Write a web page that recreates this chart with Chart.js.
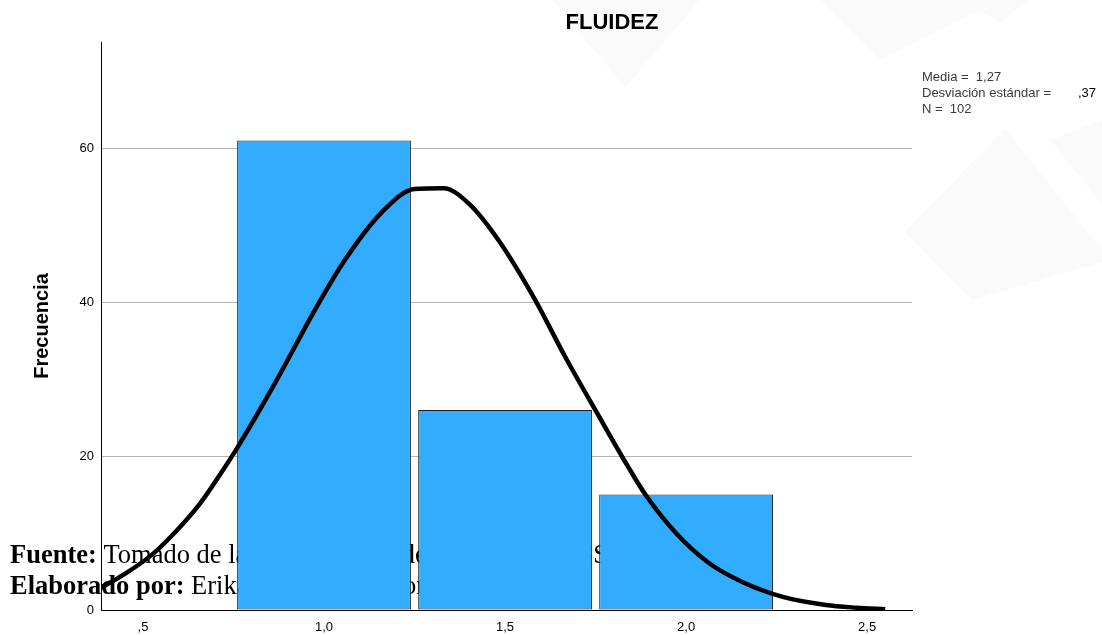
<!DOCTYPE html>
<html>
<head>
<meta charset="utf-8">
<script src="https://cdn.jsdelivr.net/npm/chart.js@4.4.1/dist/chart.umd.min.js"></script>
<style>
  html, body { margin: 0; padding: 0; background: #fff; }
  #wrap { width: 1102px; height: 635px; position: relative; }
</style>
</head>
<body>
<div id="wrap"><canvas id="chart"></canvas></div>
<script>
// histogram bins (midpoints) and frequencies
const binCenters = [1.0, 1.5, 2.0];
const frequencies = [61, 26, 15];

// normal curve
const curveX = [0.384, 0.45, 0.52, 0.566, 0.657, 0.71, 0.762, 0.865, 0.975, 1.058, 1.16, 1.25, 1.33, 1.40, 1.481, 1.583, 1.666, 1.754, 1.84, 1.889, 1.972, 2.063, 2.157, 2.267, 2.386, 2.47, 2.55];
const curveY = [2.9, 4.7, 7.0, 9.0, 13.8, 17.4, 21.2, 29.5, 39.0, 45.5, 51.7, 54.7, 54.8, 52.8, 48.1, 40.3, 32.9, 25.6, 18.6, 14.9, 10.0, 6.1, 3.6, 1.7, 0.65, 0.3, 0.1];

const xTicks = [0.5, 1.0, 1.5, 2.0, 2.5];
const yTicks = [0, 20, 40, 60];

const statsLines = ['Media =  1,27', 'Desviación estándar =', 'N =  102'];
const statsSd = ',37';

const fmtX = v => v.toFixed(1).replace('.', ',').replace(/^0/, '');

// faint page watermark behind everything
const pageBg = {
  id: 'pageBg',
  beforeDraw(chart) {
    const ctx = chart.ctx;
    ctx.save();
    ctx.fillStyle = '#fafafa';
    const shapes = [
      [[552, 0], [625, 88], [700, 0]],
      [[820, 0], [880, 60], [1000, 0]],
      [[960, 0], [1000, 22], [1030, 0]],
      [[905, 232], [1005, 128], [1102, 250], [1102, 262], [972, 300]],
      [[1050, 140], [1102, 120], [1102, 205]]
    ];
    shapes.forEach(p => {
      ctx.beginPath();
      p.forEach((pt, i) => (i ? ctx.lineTo(pt[0], pt[1]) : ctx.moveTo(pt[0], pt[1])));
      ctx.closePath();
      ctx.fill();
    });
    ctx.restore();
  }
};

// text that sits behind the bars (pasted from the source document)
const overlayText = {
  id: 'overlayText',
  beforeDatasetsDraw(chart) {
    const ctx = chart.ctx;
    const serif = '"Liberation Serif", "Times New Roman", serif';
    ctx.save();
    ctx.fillStyle = '#000';
    ctx.textBaseline = 'alphabetic';
    ctx.font = 'bold 26.5px ' + serif;
    ctx.fillText('Fuente:', 10, 563);
    let w = ctx.measureText('Fuente: ').width;
    ctx.font = '26.5px ' + serif;
    ctx.fillText('Tomado de la base de datos del programa SPSS', 10 + w, 563);
    ctx.font = 'bold 26.5px ' + serif;
    ctx.fillText('Elaborado por:', 10, 594);
    w = ctx.measureText('Elaborado por: ').width;
    ctx.font = '26.5px ' + serif;
    ctx.fillText('Erika Moreno Cóndor', 10 + w, 594);
    ctx.restore();
  }
};

const headerText = {
  id: 'headerText',
  afterDraw(chart) {
    const ctx = chart.ctx;
    ctx.save();
    ctx.fillStyle = '#000';
    ctx.font = 'bold 22px "Liberation Sans", Arial, sans-serif';
    ctx.textAlign = 'center';
    ctx.textBaseline = 'middle';
    ctx.fillText('FLUIDEZ', 612, 23);
    ctx.textAlign = 'left';
    ctx.fillStyle = '#3a3a3a';
    ctx.font = '13px "Liberation Sans", Arial, sans-serif';
    statsLines.forEach((t, i) => ctx.fillText(t, 922, 77 + i * 16));
    ctx.fillStyle = '#000';
    ctx.fillText(statsSd, 1078, 93);
    ctx.restore();
  }
};

const ctx = document.getElementById('chart').getContext('2d');
new Chart(ctx, {
  type: 'bar',
  data: {
    datasets: [
      {
        type: 'line',
        data: curveX.map((x, i) => ({ x: x, y: curveY[i] })),
        borderColor: '#000',
        borderWidth: 4.5,
        pointRadius: 0,
        cubicInterpolationMode: 'monotone',
        fill: false,
        order: 0
      },
      {
        type: 'bar',
        data: binCenters.map((x, i) => ({ x: x, y: frequencies[i] })),
        backgroundColor: '#31acff',
        borderColor: '#1c1c1c',
        borderWidth: 1,
        borderSkipped: false,
        barPercentage: 0.96,
        categoryPercentage: 1,
        order: 1
      }
    ]
  },
  options: {
    responsive: true,
    maintainAspectRatio: false,
    animation: false,
    devicePixelRatio: 1,
    layout: { padding: { top: 42, right: 190, bottom: 0, left: 0 } },
    plugins: {
      legend: { display: false },
      tooltip: { enabled: false },
      title: { display: false }
    },
    scales: {
      x: {
        type: 'linear',
        offset: false,
        min: 0.384,
        max: 2.624,
        afterBuildTicks: s => { s.ticks = xTicks.map(v => ({ value: v })); },
        afterFit: s => { s.height = 25; },
        grid: { display: false, drawTicks: false },
        border: { display: true, color: '#000', width: 1 },
        ticks: {
          padding: 10,
          color: '#000',
          font: { family: '"Liberation Sans", Arial, sans-serif', size: 13 },
          maxRotation: 0,
          callback: v => fmtX(v)
        }
      },
      y: {
        min: 0,
        max: 73.8,
        afterBuildTicks: s => { s.ticks = yTicks.map(v => ({ value: v })); },
        afterFit: s => { s.width = 101; },
        grid: {
          drawTicks: false,
          color: c => (c.tick && c.tick.value === 0 ? 'rgba(0,0,0,0)' : '#b4b4b4'),
          lineWidth: 1
        },
        border: { display: true, color: '#000', width: 1 },
        title: {
          display: true,
          text: 'Frecuencia',
          color: '#000',
          padding: { top: 30, bottom: 0 },
          font: { family: '"Liberation Sans", Arial, sans-serif', size: 20, weight: 'bold' }
        },
        ticks: {
          padding: 7,
          color: '#000',
          font: { family: '"Liberation Sans", Arial, sans-serif', size: 13 }
        }
      }
    }
  },
  plugins: [pageBg, overlayText, headerText]
});
</script>
</body>
</html>
